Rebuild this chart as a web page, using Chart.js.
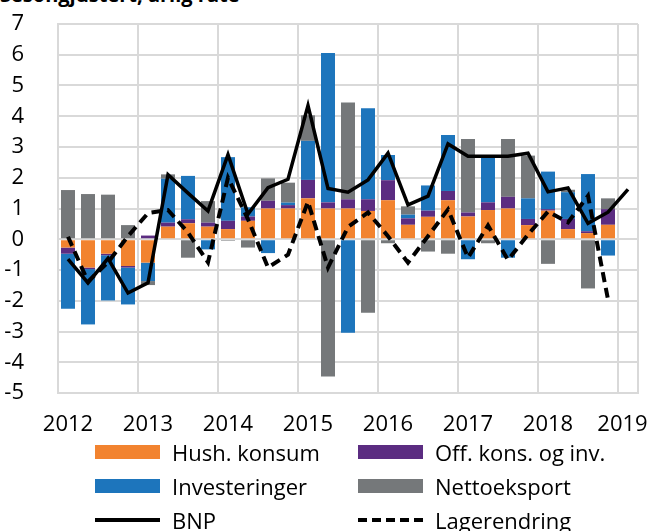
<!DOCTYPE html>
<html>
<head>
<meta charset="utf-8">
<script src="https://cdn.jsdelivr.net/npm/chart.js@4/dist/chart.umd.min.js"></script>
<style>
  html, body { margin: 0; padding: 0; background: #fff; }
  #wrap { position: relative; width: 651px; height: 531px; overflow: hidden; background: #fff; font-family: 'Open Sans', sans-serif; }
  #title { position: absolute; left: 0; top: -16px; font-size: 20px; line-height: 22px; font-weight: bold; color: #000; white-space: nowrap; }
  #chartbox { position: absolute; left: 0; top: 0; width: 651px; height: 438px; }
  #legend { position: absolute; left: 95px; top: 435px; display: grid; grid-template-columns: 263px 220px; grid-auto-rows: 34px; font-size: 22px; color: #000; }
  .item { display: flex; align-items: center; white-space: nowrap; }
  .sw { width: 65px; margin-right: 12px; flex: none; }
</style>
</head>
<body>
<div id="wrap">
  <div id="title">Sesongjustert, årlig rate</div>
  <div id="chartbox"><canvas id="c"></canvas></div>
  <div id="legend"></div>
</div>
<script>
// Quarters 2012K1 .. 2019K1
const quarters = ['2012K1','2012K2','2012K3','2012K4','2013K1','2013K2','2013K3','2013K4',
  '2014K1','2014K2','2014K3','2014K4','2015K1','2015K2','2015K3','2015K4',
  '2016K1','2016K2','2016K3','2016K4','2017K1','2017K2','2017K3','2017K4',
  '2018K1','2018K2','2018K3','2018K4','2019K1'];
const yearLabels = ['2012','2013','2014','2015','2016','2017','2018','2019'];

const hushKonsum = [-0.27,-0.92,-0.47,-0.87,-0.76,0.41,0.52,0.41,0.33,0.60,1.00,1.00,1.33,1.00,1.00,0.92,1.27,0.47,0.73,1.27,0.74,0.95,1.00,0.46,0.93,0.33,0.20,0.47,null];
const offKonsInv = [-0.20,-0.05,-0.05,-0.05,0.12,0.13,0.13,0.13,0.27,0.14,0.25,0.11,0.60,0.20,0.30,0.38,0.65,0.21,0.20,0.30,0.13,0.25,0.38,0.20,0.05,0.33,0.06,0.51,null];
const investeringer = [-1.79,-1.80,-1.47,-1.20,-0.60,1.43,1.41,-0.33,2.07,0.30,-0.45,0.08,1.27,4.86,-3.04,2.96,0.82,0.12,0.82,1.82,-0.65,1.52,-0.60,0.67,1.22,0.87,1.86,-0.53,null];
const nettoeksport = [1.60,1.47,1.45,0.46,-0.13,0.14,-0.60,0.70,-0.05,-0.27,0.73,0.65,0.83,-4.46,3.15,-2.39,-0.13,0.27,-0.40,-0.47,2.39,-0.13,1.88,1.39,-0.80,0.08,-1.60,0.35,null];
const bnp = [-0.65,-1.42,-0.62,-1.75,-1.42,2.10,1.50,0.92,2.75,0.82,1.68,1.95,4.35,1.65,1.53,1.93,2.80,1.12,1.40,3.10,2.70,2.70,2.70,2.80,1.54,1.67,0.52,0.88,1.62];
const lagerendring = [0.08,-1.38,-0.75,0.10,0.85,0.95,0.22,-0.75,2.00,0.65,-0.92,-0.50,1.22,-0.92,0.40,0.87,0.10,-0.76,0.10,0.97,-0.60,0.45,-0.67,0.15,0.90,0.55,1.41,-1.96,null];

const ORANGE = '#F2832F', PURPLE = '#5B2C81', BLUE = '#1D75BC', GRAY = '#75787A';
const GRID = '#d9d9d9';
const FONT = "'Open Sans', sans-serif";

const barDs = (label, data, color) => ({
  type: 'bar', label, data, backgroundColor: color, borderWidth: 0,
  barPercentage: 0.7, categoryPercentage: 1.0, stack: 'bars', order: 2
});

const datasets = [
  barDs('Hush. konsum', hushKonsum, ORANGE),
  barDs('Off. kons. og inv.', offKonsInv, PURPLE),
  barDs('Investeringer', investeringer, BLUE),
  barDs('Nettoeksport', nettoeksport, GRAY),
  { type: 'line', label: 'BNP', data: bnp, borderColor: '#000', borderWidth: 3.5,
    pointRadius: 0, tension: 0, fill: false, stack: 'bnp', order: 0, borderJoinStyle: 'miter' },
  { type: 'line', label: 'Lagerendring', data: lagerendring, borderColor: '#000', borderWidth: 4,
    borderDash: [10, 6], pointRadius: 0, tension: 0, fill: false, stack: 'lager', order: 1 }
];

const lastYearIdx = quarters.length - 1;

new Chart(document.getElementById('c'), {
  data: { labels: quarters, datasets },
  options: {
    responsive: true, maintainAspectRatio: false, animation: false,
    layout: { padding: { left: 4, right: 13, top: 24, bottom: 0 } },
    plugins: { legend: { display: false }, tooltip: { enabled: false } },
    scales: {
      x: {
        stacked: true, offset: true,
        grid: { offset: true, lineWidth: 2, drawTicks: false,
          color: (c) => (c.index === undefined || c.index % 4 === 0) ? GRID : 'rgba(0,0,0,0)' },
        border: { color: GRID, width: 2 },
        ticks: { autoSkip: false, maxRotation: 0, minRotation: 0, padding: 19, color: '#000',
          font: { family: FONT, size: 22 },
          callback: (v, i) => {
            if (i % 4 !== 0) return '';
            const y = yearLabels[i / 4];
            return i === lastYearIdx ? y + '\u2002' : y; // keep last label inside the frame
          } },
        afterFit: (s) => { s.height = 45; s.paddingLeft = 0; s.paddingRight = 0; }
      },
      y: {
        stacked: true, min: -5, max: 7,
        grid: { color: GRID, lineWidth: 2, drawTicks: false },
        border: { color: GRID, width: 2 },
        ticks: { stepSize: 1, autoSkip: false, padding: 34, color: '#000', font: { family: FONT, size: 22 },
          callback: (v) => String(v) },
        afterFit: (s) => { s.width = 54; s.paddingTop = 0; s.paddingBottom = 0; }
      }
    }
  }
});

// HTML legend from dataset definitions
const legend = document.getElementById('legend');
datasets.forEach((d) => {
  const item = document.createElement('div');
  item.className = 'item';
  const sw = document.createElement('div');
  sw.className = 'sw';
  if (d.type === 'bar') {
    sw.style.height = '14px';
    sw.style.background = d.backgroundColor;
  } else if (d.borderDash) {
    sw.style.height = '4px';
    sw.style.background = 'repeating-linear-gradient(to right, #000 0 9px, rgba(0,0,0,0) 9px 14px)';
  } else {
    sw.style.height = '4px';
    sw.style.background = '#000';
  }
  const tx = document.createElement('span');
  tx.textContent = d.label;
  item.appendChild(sw);
  item.appendChild(tx);
  legend.appendChild(item);
});
</script>
</body>
</html>
